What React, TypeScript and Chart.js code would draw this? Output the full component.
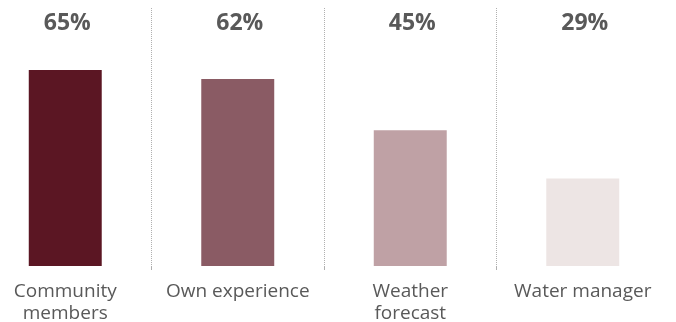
import React, { useEffect, useRef } from "react";
import { Chart, registerables } from "chart.js";

Chart.register(...registerables);

const categories: (string | string[])[] = [
  ["Community", "members"],
  "Own experience",
  ["Weather", "forecast"],
  "Water manager",
];
const values: number[] = [65, 62, 45, 29];
const valueLabels: string[] = ["65%", "62%", "45%", "29%"];
const barColors: string[] = ["#5b1623", "#8a5b64", "#bfa1a5", "#ede5e4"];
const yMax = 87.5;

const topLabels = {
  id: "topLabels",
  afterDatasetsDraw(chart: any) {
    const { ctx, chartArea } = chart;
    const meta = chart.getDatasetMeta(0);
    ctx.save();
    ctx.font = "bold 23px 'Open Sans'";
    ctx.fillStyle = "#595959";
    ctx.textAlign = "center";
    ctx.textBaseline = "middle";
    meta.data.forEach((bar: any, i: number) => {
      ctx.fillText(valueLabels[i], bar.x + 2, chartArea.top + 21);
    });
    ctx.restore();
  },
};

export default function App() {
  const ref = useRef<HTMLCanvasElement | null>(null);
  useEffect(() => {
    if (!ref.current) return;
    const chart = new Chart(ref.current, {
      type: "bar",
      data: {
        labels: categories,
        datasets: [
          {
            data: values,
            backgroundColor: barColors,
            borderWidth: 0,
            categoryPercentage: 1,
            barPercentage: 0.423,
          },
        ],
      },
      options: {
        animation: false,
        responsive: true,
        maintainAspectRatio: false,
        layout: { padding: { top: 2, left: 0, right: 0, bottom: 0 } },
        plugins: { legend: { display: false }, tooltip: { enabled: false } },
        scales: {
          y: { display: false, min: 0, max: yMax },
          x: {
            afterFit(scale: any) {
              scale.height = 56;
            },
            grid: {
              display: true,
              offset: true,
              drawOnChartArea: true,
              drawTicks: true,
              tickLength: 4,
              lineWidth: 1,
              color: (c: any) =>
                c.index === 0 || c.index >= categories.length ? "rgba(0,0,0,0)" : "#b0b0b0",
            },
            border: { display: false, dash: [1, 1] },
            ticks: {
              color: "#595959",
              font: { family: "'Open Sans'", size: 19, lineHeight: 1.15 },
              padding: 11,
              maxRotation: 0,
              autoSkip: false,
            },
          },
        },
      },
      plugins: [topLabels],
    });
    return () => chart.destroy();
  }, []);
  return (
    <div style={{ width: 690, height: 322, marginLeft: -29, marginTop: -8, position: "relative" }}>
      <canvas ref={ref} />
    </div>
  );
}
